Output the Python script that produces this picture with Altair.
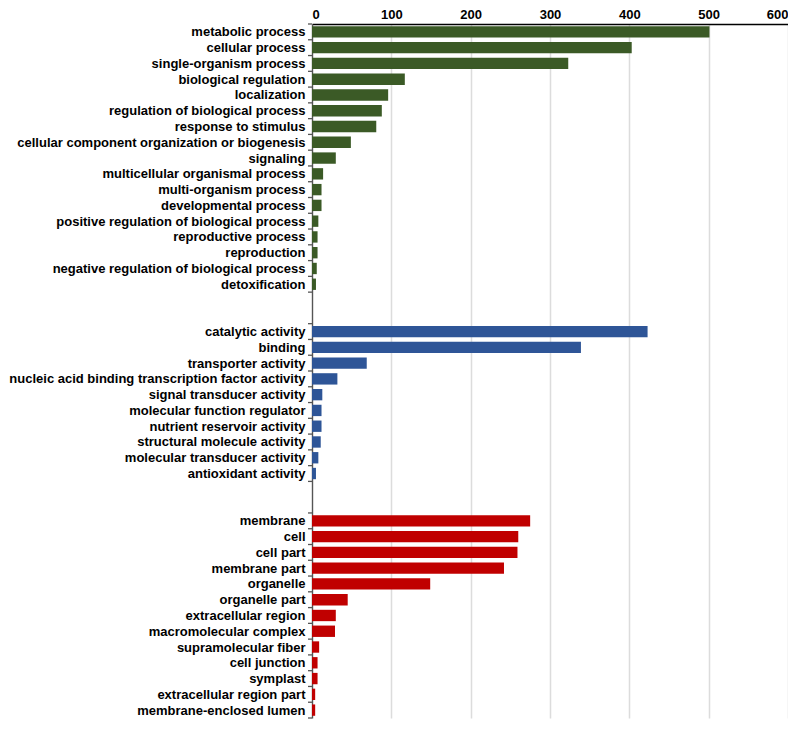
import json
import altair as alt
import pandas as pd

bp_terms = [
    "metabolic process", "cellular process", "single-organism process",
    "biological regulation", "localization", "regulation of biological process",
    "response to stimulus", "cellular component organization or biogenesis",
    "signaling", "multicellular organismal process", "multi-organism process",
    "developmental process", "positive regulation of biological process",
    "reproductive process", "reproduction",
    "negative regulation of biological process", "detoxification",
]
bp_counts = [501, 403, 323, 117, 96, 88, 81, 49, 30, 14, 12, 12, 8, 7, 7, 6, 5]

mf_terms = [
    "catalytic activity", "binding", "transporter activity",
    "nucleic acid binding transcription factor activity",
    "signal transducer activity", "molecular function regulator",
    "nutrient reservoir activity", "structural molecule activity",
    "molecular transducer activity", "antioxidant activity",
]
mf_counts = [423, 339, 69, 32, 13, 12, 12, 11, 8, 5]

cc_terms = [
    "membrane", "cell", "cell part", "membrane part", "organelle",
    "organelle part", "extracellular region", "macromolecular complex",
    "supramolecular fiber", "cell junction", "symplast",
    "extracellular region part", "membrane-enclosed lumen",
]
cc_counts = [275, 260, 259, 242, 149, 45, 30, 29, 9, 7, 7, 4, 4]

groups = ["Biological process", "Molecular function", "Cellular component"]
group_colors = ["#3B5A26", "#2E5597", "#C00000"]
gap_rows = 2

# assemble rows (row index = position in the list, gaps between groups)
rows = []
row_names = []
ticks = []
r = 0
for gi, (terms, counts) in enumerate([(bp_terms, bp_counts), (mf_terms, mf_counts), (cc_terms, cc_counts)]):
    if gi > 0:
        row_names += [""] * gap_rows
        r += gap_rows
    ticks.append(r)
    for t, c in zip(terms, counts):
        rows.append({"term": t, "count": c, "row": r, "group": groups[gi]})
        row_names.append(t)
        r += 1
        ticks.append(r)
n_rows = r
df = pd.DataFrame(rows)
tick_df = pd.DataFrame({"b": ticks})

centers = [d["row"] + 0.5 for d in rows]
label_expr = json.dumps(row_names) + "[floor(datum.value)]"

FONT = "Liberation Sans"

y_scale = alt.Scale(domain=[0, n_rows], reverse=True, nice=False, zero=False)
y_axis = alt.Axis(values=centers, labelExpr=label_expr, title=None,
                  grid=False, labelLimit=400, labelPadding=7,
                  labelOverlap=False, labelFlush=False,
                  labelFont=FONT, labelFontSize=13, labelFontWeight="bold",
                  labelColor="black", domainColor="#555555", domainWidth=1.3,
                  ticks=False)

bars = alt.Chart(df).transform_calculate(
    y0="datum.row + 0.14", y1="datum.row + 0.86"
).mark_bar().encode(
    x=alt.X("count:Q",
            scale=alt.Scale(domain=[0, 600], nice=False),
            axis=alt.Axis(orient="top", values=[0, 100, 200, 300, 400, 500, 600],
                          title=None, ticks=False, labelPadding=3,
                          labelFont=FONT, labelFontSize=13, labelFontWeight="bold",
                          labelColor="black", domainColor="black", domainWidth=1.3,
                          grid=True, gridColor="#DCDCDC", gridWidth=1.5)),
    x2=alt.datum(0),
    y=alt.Y("y0:Q", scale=y_scale, axis=y_axis),
    y2="y1:Q",
    color=alt.Color("group:N", scale=alt.Scale(domain=groups, range=group_colors), legend=None),
)

tick_marks = alt.Chart(tick_df).mark_rule(color="#555555", strokeWidth=1.3, clip=False).encode(
    y=alt.Y("b:Q", scale=y_scale, axis=y_axis),
    x=alt.value(-4),
    x2=alt.value(0),
)

chart = alt.layer(bars, tick_marks).properties(
    width=476, height=694, padding=0
).configure_view(stroke=None)

chart.save("out.html", embed_options={"renderer": "svg", "actions": False})
